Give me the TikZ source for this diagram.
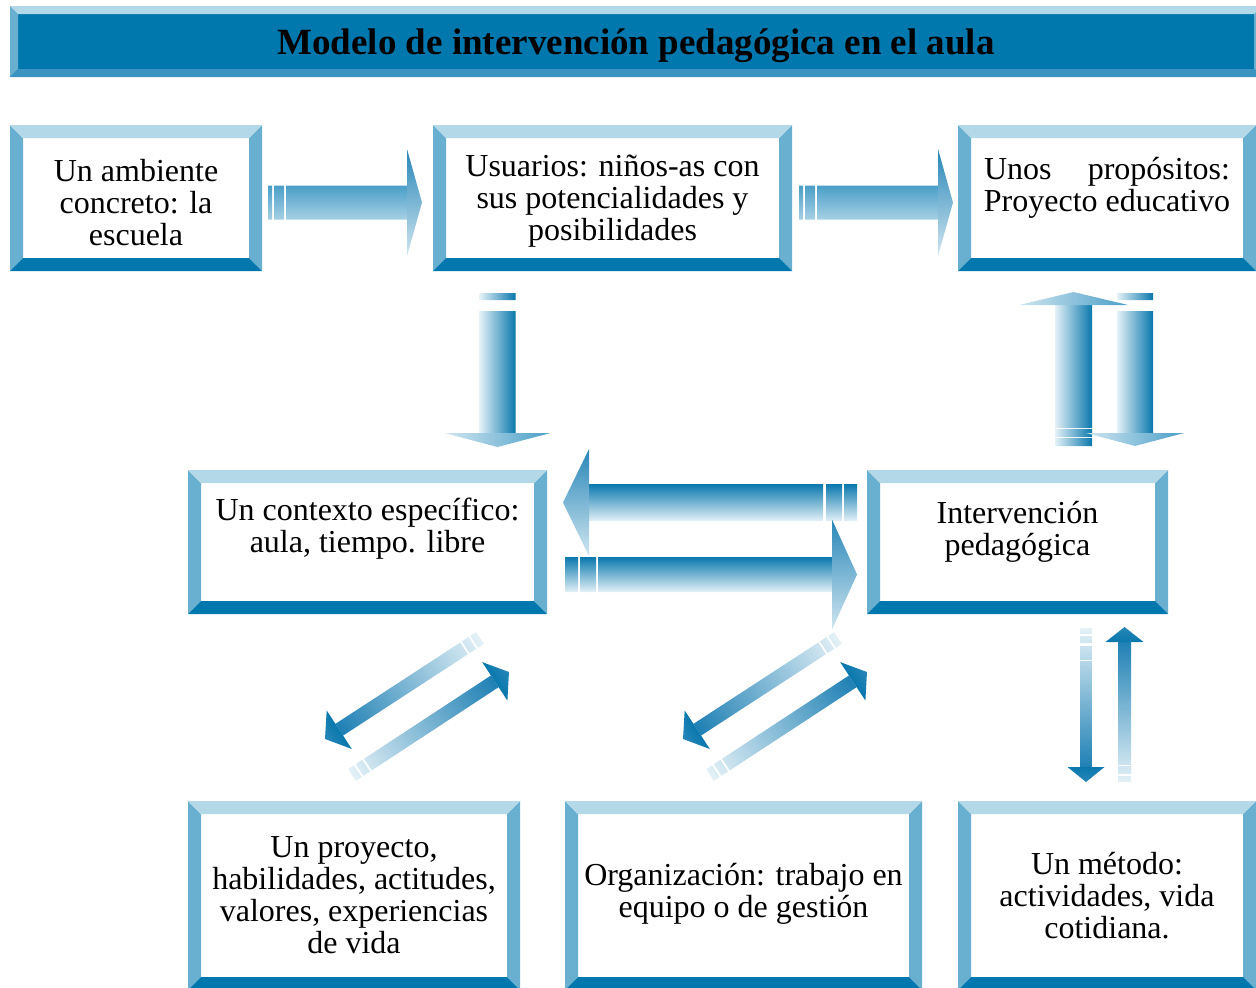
\documentclass[tikz,border=0pt]{standalone}
\usepackage{fontspec}
\setmainfont{Liberation Serif}
\usetikzlibrary{calc}

\definecolor{bevlight}{HTML}{B3D8E8}
\definecolor{bevmid}{HTML}{68AFD0}
\definecolor{bevdark}{HTML}{0077AD}
\definecolor{titlelow}{HTML}{3A93C0}
\definecolor{arrdark}{HTML}{0A78AD}
\definecolor{arrdeep}{HTML}{1F80B4}
\definecolor{arrmid}{HTML}{4A9EC8}
\definecolor{arrlight}{HTML}{A6D0E4}
\definecolor{arrpale}{HTML}{E4F1F7}
\definecolor{arrhead}{HTML}{2886B8}
\definecolor{arrfade}{HTML}{D0E6F0}

% bevel: width, top, sides, bottom
\newcommand{\bevelsides}[4]{%
  \fill[#3] (path picture bounding box.north west) -- ([shift={(#1,-#1)}]path picture bounding box.north west) -- ([shift={(#1,#1)}]path picture bounding box.south west) -- (path picture bounding box.south west) -- cycle;
  \fill[#3] (path picture bounding box.north east) -- ([shift={(-#1,-#1)}]path picture bounding box.north east) -- ([shift={(-#1,#1)}]path picture bounding box.south east) -- (path picture bounding box.south east) -- cycle;
  \fill[#2] (path picture bounding box.north west) -- (path picture bounding box.north east) -- ([shift={(-#1,-#1)}]path picture bounding box.north east) -- ([shift={(#1,-#1)}]path picture bounding box.north west) -- cycle;
  \fill[#4] (path picture bounding box.south west) -- (path picture bounding box.south east) -- ([shift={(-#1,#1)}]path picture bounding box.south east) -- ([shift={(#1,#1)}]path picture bounding box.south west) -- cycle;
}

% block arrow: styles, tail, tip, half width, head half width, head length, shaft start, tail pieces
\newcommand{\fatarrow}[8][]{%
  \path let \p1=(#2), \p2=(#3) in \pgfextra{%
    \pgfmathsetmacro\arang{atan2((\y2)-(\y1),(\x2)-(\x1))}%
    \pgfmathsetmacro\arlen{veclen((\x2)-(\x1),(\y2)-(\y1))}%
    \xdef\arang{\arang}\xdef\arlen{\arlen}};
  \begin{scope}[x=1pt, y=1pt, #1, transform canvas={shift={(#2)}, rotate=\arang}]
    \shade[shaft] #8 (#7,-#4) rectangle (\arlen-#6,#4);
    \shade[head] (\arlen-#6,#5) -- (\arlen,0) -- (\arlen-#6,-#5) -- cycle;
  \end{scope}
}

\tikzset{
  framebox/.style={fill=white, inner sep=0pt, align=center,
    font=\fontsize{32}{32}\selectfont,
    path picture={\bevelsides{13pt}{bevlight}{bevmid}{bevdark}}},
  titlebar/.style={fill=bevdark, inner sep=0pt,
    font=\bfseries\fontsize{37}{37}\selectfont,
    path picture={\bevelsides{8pt}{bevlight}{bevmid}{titlelow}}},
  shaft/.style={}, head/.style={},
  across/.style 2 args={shaft/.style={top color=#1, bottom color=#2}},
  acrosshead/.style 2 args={head/.style={top color=#1, bottom color=#2}},
  along/.style={shaft/.style={left color=arrpale, right color=arrdeep},
    head/.style={left color=arrdark, right color=arrhead}}
}

\begin{document}
\begin{tikzpicture}[x=1pt, y=-1pt]
\useasboundingbox (0,0) rectangle (1256,988);

\node[titlebar, minimum width=1252pt, minimum height=71pt, text depth=0pt] (titulo) at (636,41.5) {Modelo de intervención pedagógica en el aula};

% cajas
\node[framebox, minimum width=252pt, minimum height=146pt, text height=96pt] (ambiente) at (136,198) {Un ambiente\\concreto: la\\escuela};
\node[framebox, minimum width=359pt, minimum height=146pt, text depth=0pt] (usuarios) at (612.5,198) {Usuarios: niños-as con\\sus potencialidades y\\posibilidades};
\node[framebox, minimum width=298pt, minimum height=146pt, text depth=27pt] (propositos) at (1107,198) {\makebox[246pt][s]{Unos propósitos:}\\Proyecto educativo};
\node[framebox, minimum width=359pt, minimum height=144pt, text depth=33pt] (contexto) at (367.5,542) {Un contexto específico:\\aula, tiempo. libre};
\node[framebox, minimum width=301pt, minimum height=144pt, text depth=27pt] (intervencion) at (1017.5,542) {Intervención\\pedagógica};
\node[framebox, minimum width=332pt, minimum height=189pt] (proyecto) at (354,895.5) {Un proyecto,\\habilidades, actitudes,\\valores, experiencias\\de vida};
\node[framebox, minimum width=357pt, minimum height=189pt, text depth=11pt] (organizacion) at (743.5,895.5) {Organización: trabajo en\\equipo o de gestión};
\node[framebox, minimum width=298pt, minimum height=189pt] (metodo) at (1107,895.5) {Un método:\\actividades, vida\\cotidiana.};

% extremos de las flechas
\coordinate (amb-us-t) at (268,202.5);   \coordinate (amb-us-h) at (422,202.5);
\coordinate (us-pro-t) at (799,202.5);   \coordinate (us-pro-h) at (953,202.5);
\coordinate (us-con-t) at (497.5,293);   \coordinate (us-con-h) at (497.5,447);
\coordinate (int-pro-t) at (1073.5,446); \coordinate (int-pro-h) at (1073.5,292);
\coordinate (pro-int-t) at (1135,293);   \coordinate (pro-int-h) at (1135,446);
\coordinate (int-con-t) at (857,502.5);  \coordinate (int-con-h) at (563,502.5);
\coordinate (con-int-t) at (565,574.5);  \coordinate (con-int-h) at (857,574.5);
\coordinate (con-pry-t) at (480,638);    \coordinate (con-pry-h) at (325,739);
\coordinate (pry-con-t) at (352,775);    \coordinate (pry-con-h) at (509,672);
\coordinate (int-org-t) at (838,638);    \coordinate (int-org-h) at (683,739);
\coordinate (org-int-t) at (710,775);    \coordinate (org-int-h) at (867,672);
\coordinate (int-met-t) at (1086,628);   \coordinate (int-met-h) at (1086,782);
\coordinate (met-int-t) at (1124.5,782); \coordinate (met-int-h) at (1124.5,627);

% fila superior
\fatarrow[across={arrmid}{arrlight}, acrosshead={arrhead}{arrfade}]{amb-us-t}{amb-us-h}{17}{53.5}{15}{18}{(0,-17) rectangle (4,17) (6,-17) rectangle (16,17)}
\fatarrow[across={arrmid}{arrlight}, acrosshead={arrhead}{arrfade}]{us-pro-t}{us-pro-h}{17}{53.5}{15}{18}{(0,-17) rectangle (4,17) (6,-17) rectangle (16,17)}
%
\fatarrow[across={arrdark}{arrpale}, acrosshead={arrmid}{arrfade}]{us-con-t}{us-con-h}{18}{53}{14}{18}{(0,-18) rectangle (7,18)}
\fatarrow[across={arrpale}{arrdark}, acrosshead={arrfade}{arrmid}]{int-pro-t}{int-pro-h}{18.5}{54.5}{13}{18}{(0,-18.5) rectangle (8,18.5) (9,-18.5) rectangle (17,18.5)}
\fatarrow[across={arrdark}{arrpale}, acrosshead={arrmid}{arrfade}]{pro-int-t}{pro-int-h}{18}{49}{13}{18}{(0,-18) rectangle (7,18)}
% fila central
\fatarrow[across={arrpale}{arrdark}, acrosshead={arrfade}{arrhead}]{int-con-t}{int-con-h}{18.5}{53.5}{26}{34}{(0,-18.5) rectangle (13,18.5) (15,-18.5) rectangle (31,18.5)}
\fatarrow[across={arrdark}{arrpale}, acrosshead={arrhead}{arrfade}]{con-int-t}{con-int-h}{17.5}{55}{25}{33}{(0,-17.5) rectangle (13,17.5) (15,-17.5) rectangle (31,17.5)}
% diagonales
\fatarrow[along]{con-pry-t}{con-pry-h}{7}{23}{17}{19}{(0,-7) rectangle (7,7) (9,-7) rectangle (17,7)}
\fatarrow[along]{pry-con-t}{pry-con-h}{7}{23}{17}{19}{(0,-7) rectangle (7,7) (9,-7) rectangle (17,7)}
\fatarrow[along]{int-org-t}{int-org-h}{7}{23}{17}{19}{(0,-7) rectangle (7,7) (9,-7) rectangle (17,7)}
\fatarrow[along]{org-int-t}{org-int-h}{7}{23}{17}{19}{(0,-7) rectangle (7,7) (9,-7) rectangle (17,7)}
% hacia el metodo
\fatarrow[along]{int-met-t}{int-met-h}{6}{18.5}{15}{33}{(0,-6) rectangle (6,6) (8,-6) rectangle (15,6) (18,-6) rectangle (32,6)}
\fatarrow[along]{met-int-t}{met-int-h}{6.5}{19}{15}{17}{(0,-6.5) rectangle (6,6.5) (8,-6.5) rectangle (16,6.5)}
\end{tikzpicture}
\end{document}
